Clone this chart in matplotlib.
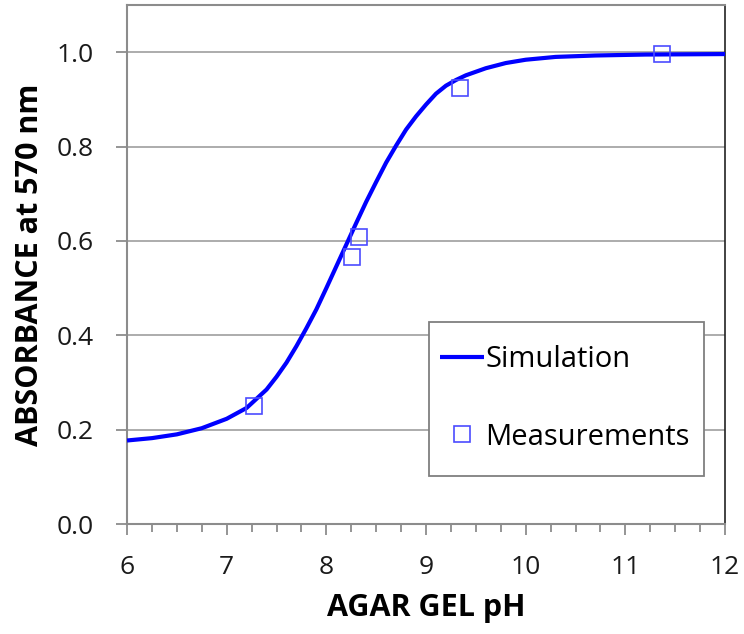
"""
Absorbance at 570 nm versus agar gel pH: simulated titration curve
together with the measured points.
"""

import matplotlib
matplotlib.use("Agg")
import matplotlib.pyplot as plt
from matplotlib.patches import Rectangle
from matplotlib.ticker import MultipleLocator

# ─── Data ────────────────────────────────────────────────────────────────────

# Simulation curve, sampled along the pH axis
sim_ph = [6.0, 6.25, 6.5, 6.75, 7.0, 7.2, 7.4, 7.5, 7.6, 7.7, 7.8, 7.9,
          8.0, 8.1, 8.2, 8.3, 8.4, 8.5, 8.6, 8.7, 8.8, 8.9, 9.0, 9.1,
          9.2, 9.3, 9.4, 9.6, 9.8, 10.0, 10.3, 10.7, 11.2, 12.0]
sim_abs = [0.177, 0.182, 0.190, 0.203, 0.223, 0.246, 0.285, 0.312, 0.342,
           0.377, 0.415, 0.455, 0.500, 0.546, 0.592, 0.638, 0.683, 0.725,
           0.766, 0.802, 0.836, 0.864, 0.889, 0.912, 0.929, 0.941, 0.951,
           0.966, 0.977, 0.984, 0.990, 0.993, 0.995, 0.996]

# Measured absorbance
meas_ph = [7.27, 8.26, 8.33, 9.34, 11.37]
meas_abs = [0.250, 0.566, 0.608, 0.925, 0.997]

x_ticks = [6, 7, 8, 9, 10, 11, 12]
y_ticks = [0.0, 0.2, 0.4, 0.6, 0.8, 1.0]

# ─── Plot ────────────────────────────────────────────────────────────────────

plt.rcParams["font.family"] = ["Open Sans", "DejaVu Sans"]

fig = plt.figure(figsize=(7.44, 6.34), dpi=100)
ax = fig.add_axes([0.1707, 0.1735, 0.8038, 0.8186])

ax.plot(sim_ph, sim_abs, color="#0000ff", linewidth=3.0,
        solid_capstyle="butt", solid_joinstyle="round",
        label="Simulation", zorder=3)
ax.plot(meas_ph, meas_abs, linestyle="none", marker="s", markersize=11,
        markerfacecolor="none", markeredgecolor="#4b4bff",
        markeredgewidth=1.2, label="Measurements", zorder=4)

ax.set_xlim(6, 12)
ax.set_ylim(0, 1.1)
ax.set_xticks(x_ticks)
ax.set_yticks(y_ticks)
ax.set_yticklabels([f"{v:.1f}" for v in y_ticks])
ax.xaxis.set_minor_locator(MultipleLocator(0.25))

ax.grid(axis="y", color="#a6a6a6", linewidth=1.3)
ax.set_axisbelow(True)

for side in ("left", "bottom", "top"):
    ax.spines[side].set_color("#8c8c8c")
    ax.spines[side].set_linewidth(1.5)
ax.spines["right"].set_color("#222222")
ax.spines["right"].set_linewidth(1.2)

ax.tick_params(axis="both", which="major", labelsize=19, colors="#8c8c8c",
               labelcolor="#1a1a1a", width=1.3, length=8, direction="out")
ax.tick_params(axis="x", which="minor", colors="#8c8c8c", width=1.3,
               length=6, direction="out")
ax.tick_params(axis="x", which="major", pad=14)
ax.tick_params(axis="y", which="major", pad=16)

ax.set_xlabel("AGAR GEL pH", fontsize=22, fontweight="bold")
ax.set_ylabel("ABSORBANCE at 570 nm", fontsize=22, fontweight="bold")
ax.xaxis.set_label_coords(0.5, -0.133)
ax.yaxis.set_label_coords(-0.137, 0.5)

# Legend: a plain white box with the entries spread well apart inside it
ax.add_patch(Rectangle((0.5045, 0.0925), 0.4605, 0.2965,
                       transform=ax.transAxes, facecolor="white",
                       edgecolor="#7f7f7f", linewidth=1.3, zorder=5))
leg = ax.legend(loc="center left", bbox_to_anchor=(0.5234, 0.2418),
                fontsize=21, frameon=False, handlelength=1.5,
                handletextpad=0.05, labelspacing=1.65, borderpad=0,
                borderaxespad=0)
leg.set_zorder(6)

fig.savefig("out.png", dpi=100)
plt.close(fig)
